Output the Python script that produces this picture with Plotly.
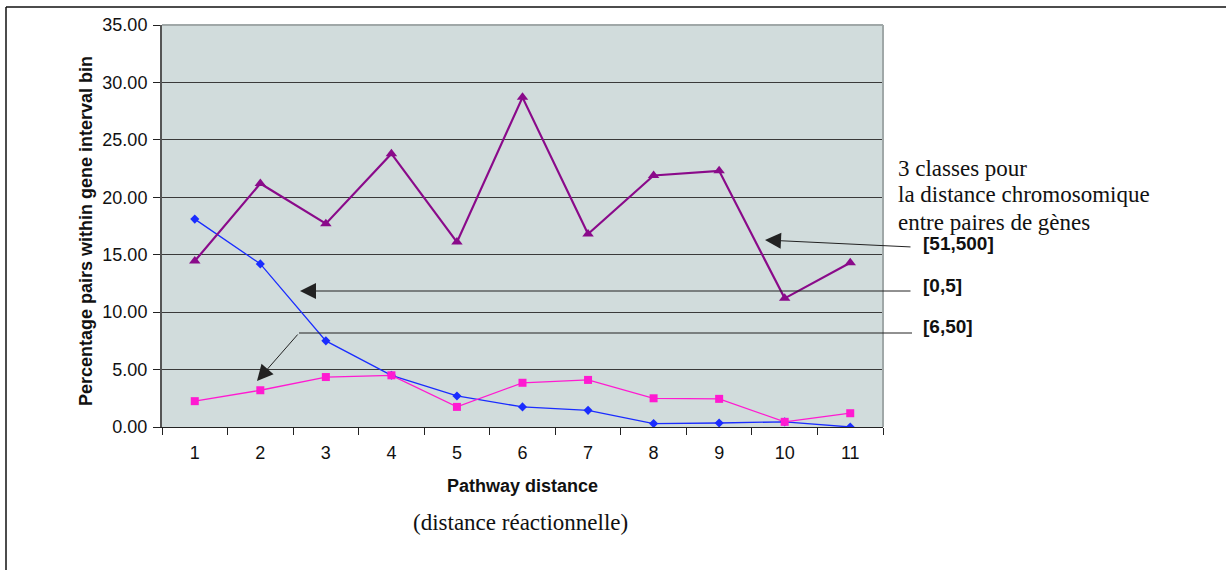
import plotly.graph_objects as go

# ---- data ----
categories = ["1", "2", "3", "4", "5", "6", "7", "8", "9", "10", "11"]
series_0_5 = [18.1, 14.2, 7.5, 4.5, 2.7, 1.75, 1.45, 0.3, 0.35, 0.45, 0.0]
series_6_50 = [2.25, 3.2, 4.35, 4.5, 1.75, 3.85, 4.1, 2.5, 2.45, 0.45, 1.2]
series_51_500 = [14.45, 21.2, 17.7, 23.8, 16.1, 28.7, 16.8, 21.9, 22.3, 11.2, 14.3]
series_names = ["[0,5]", "[6,50]", "[51,500]"]
y_ticks = [0, 5, 10, 15, 20, 25, 30, 35]

SANS = "Arial, Liberation Sans, sans-serif"
SERIF = "Times New Roman, Liberation Serif, serif"

# pixel geometry helpers (figure 1226x570, plot area 162..883 x 25..427)
W, H = 1226, 570
L, R, T, B = 162, 883, 25, 427
PW, PH = R - L, B - T


def px(xp):
    return (xp - L) / PW


def py(yp):
    return (B - yp) / PH


fig = go.Figure()
fig.add_trace(go.Scatter(
    x=categories, y=series_0_5, mode="lines+markers", name=series_names[0],
    line=dict(color="#1a2cff", width=1.3),
    marker=dict(symbol="diamond", size=7, color="#1a2cff")))
fig.add_trace(go.Scatter(
    x=categories, y=series_6_50, mode="lines+markers", name=series_names[1],
    line=dict(color="#ff1ad1", width=1.3),
    marker=dict(symbol="square", size=8, color="#ff1ad1")))
fig.add_trace(go.Scatter(
    x=categories, y=series_51_500, mode="lines+markers", name=series_names[2],
    line=dict(color="#8a0a8a", width=2.2),
    marker=dict(symbol="triangle-up", size=10, color="#8a0a8a")))

fig.update_layout(
    width=W, height=H,
    margin=dict(l=L, r=W - R, t=T, b=H - B),
    paper_bgcolor="white",
    plot_bgcolor="#d1dcdc",
    showlegend=False,
    font=dict(family=SANS, size=18, color="#111"),
    xaxis=dict(
        type="category", range=[-0.5, len(categories) - 0.5],
        tickson="boundaries", ticks="outside", ticklen=7,
        tickcolor="#222", showline=True, linecolor="#222", linewidth=1,
        showgrid=False, zeroline=False, ticklabelstandoff=9,
        tickfont=dict(family=SANS, size=18, color="#111"),
    ),
    yaxis=dict(
        range=[0, 35], tickvals=y_ticks, tickformat=".2f", ticks="outside",
        ticklen=7, tickcolor="#222", showline=True, linecolor="#555",
        linewidth=2, showgrid=True, gridcolor="#3a3a3a", gridwidth=1,
        zeroline=False, ticklabelstandoff=2,
        tickfont=dict(family=SANS, size=18, color="#111"),
    ),
)

# plot-area frame (top & right grey edge)
fig.add_shape(type="line", xref="paper", yref="paper", x0=0, x1=1, y0=1, y1=1,
              line=dict(color="#a0a8a8", width=2))
fig.add_shape(type="line", xref="paper", yref="paper", x0=1, x1=1, y0=0, y1=1,
              line=dict(color="#a0a8a8", width=2))
# outer chart border
fig.add_shape(type="line", xref="paper", yref="paper", x0=px(6), x1=px(6),
              y0=py(7), y1=py(600), line=dict(color="#111", width=1.5))
fig.add_shape(type="line", xref="paper", yref="paper", x0=px(6), x1=px(1300),
              y0=py(7), y1=py(7), line=dict(color="#111", width=1.5))

# axis titles
fig.add_annotation(text="<b>Pathway distance</b>", xref="paper", yref="paper",
                   x=px(522), y=py(486), xanchor="center", yanchor="middle",
                   showarrow=False, font=dict(family=SANS, size=18, color="#111"))
fig.add_annotation(text="(distance réactionnelle)", xref="paper", yref="paper",
                   x=px(520), y=py(522), xanchor="center", yanchor="middle",
                   showarrow=False, font=dict(family=SERIF, size=23, color="#111"))
fig.add_annotation(text="<b>Percentage pairs within gene interval bin</b>",
                   xref="paper", yref="paper", x=px(86), y=py(231),
                   xanchor="center", yanchor="middle",
                   textangle=-90, showarrow=False,
                   font=dict(family=SANS, size=18, color="#111"))

# explanatory text
for txt, yy in [("3 classes pour", 168), ("la distance chromosomique", 194),
                ("entre paires de gènes", 222)]:
    fig.add_annotation(text=txt, xref="paper", yref="paper", x=px(896),
                       y=py(yy), xanchor="left", yanchor="middle",
                       showarrow=False,
                       font=dict(family=SERIF, size=23, color="#111"))

# class labels
for txt, yy in [(series_names[2], 243), (series_names[0], 285),
                (series_names[1], 326)]:
    fig.add_annotation(text="<b>" + txt + "</b>", xref="paper", yref="paper",
                       x=px(921), y=py(yy), xanchor="left", yanchor="middle",
                       showarrow=False,
                       font=dict(family=SANS, size=19, color="#111"))

# arrows
arrow_style = dict(showarrow=True, arrowhead=2, arrowsize=3.2, arrowwidth=1,
                   arrowcolor="#222", text="", xref="paper", yref="paper",
                   axref="pixel", ayref="pixel")
fig.add_annotation(x=px(765), y=py(240), ax=147, ay=7, **arrow_style)
fig.add_annotation(x=px(300), y=py(291), ax=612, ay=0, **arrow_style)
fig.add_annotation(x=px(257), y=py(381), ax=42, ay=-48, **arrow_style)
fig.add_shape(type="line", xref="paper", yref="paper", x0=px(299), x1=px(912),
              y0=py(333), y1=py(333), line=dict(color="#222", width=1))

fig.write_html("out.html",
               config={"displayModeBar": False},
               post_script="document.body.style.margin='0';"
                           "document.body.style.padding='0';")
